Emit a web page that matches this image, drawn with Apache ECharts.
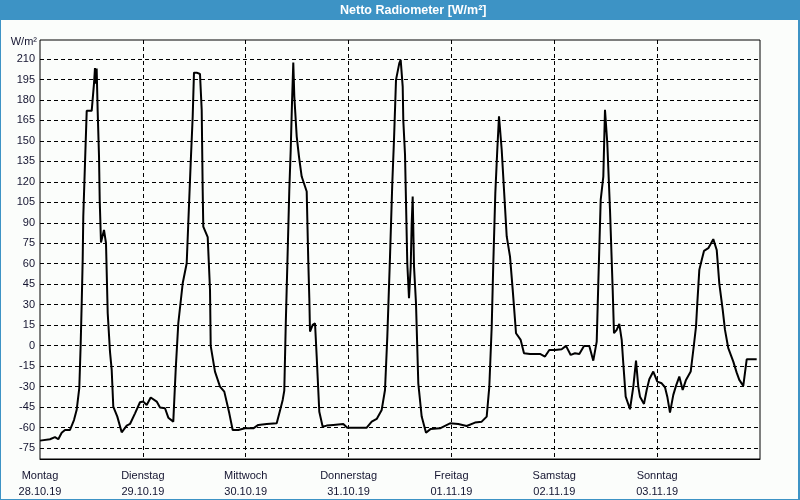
<!DOCTYPE html>
<html>
<head>
<meta charset="utf-8">
<script src="https://cdn.jsdelivr.net/npm/echarts@6/dist/echarts.min.js"></script>
<style>
html,body{margin:0;padding:0;background:#fbfdfb;}
#c{width:800px;height:500px;}
</style>
</head>
<body>
<div id="c"></div>
<script>
const dayNames = ['Montag','Dienstag','Mittwoch','Donnerstag','Freitag','Samstag','Sonntag'];
const dayDates = ['28.10.19','29.10.19','30.10.19','31.10.19','01.11.19','02.11.19','03.11.19'];
const yTicks = [-75,-60,-45,-30,-15,0,15,30,45,60,75,90,105,120,135,150,165,180,195,210];

// hours since Mon 28.10.19 00:00
const hours = [
0,2.33,3.5,4.27,5.06,5.83,7.0,7.93,8.56,9.17,9.5,9.73,9.96,10.1,10.5,10.9,12.06,12.6,12.83,13.0,13.22,13.46,13.77,13.93,14.23,14.93,15.4,15.8,16.33,16.73,17.1,18.04,19.06,20.23,21.0,22.17,23.33,
24.1,24.9,25.83,27.23,28.0,29.17,29.94,31.1,31.66,32.27,33.3,34.23,34.6,35.16,35.63,35.93,36.56,37.33,37.73,37.96,38.1,39.13,39.67,39.83,40.83,42.0,43.0,44.17,44.96,46.27,47.83,
49.0,49.77,50.94,52.9,55.23,55.84,56.63,57.0,57.33,57.7,58.17,58.5,58.8,59.1,59.34,59.9,60.43,61.06,62.23,62.6,62.84,63.0,63.63,64.17,64.56,65.17,65.96,66.9,68.44,70.77,71.7,
73.9,76.23,77.4,78.56,79.73,80.5,81.04,81.67,82.2,82.6,83.07,83.84,84.16,84.63,84.77,85.17,85.7,86.1,86.5,86.73,86.96,87.27,87.73,88.27,89.06,90.07,91.16,93.33,95.67,
97.6,99.56,101.5,103.06,104.23,104.84,105.4,105.77,106.24,106.7,107.1,107.33,107.73,108.27,108.9,109.67,110.3,111.07,112.16,112.93,114.33,116.67,117.83,118.84,
120.17,121.73,122.73,123.83,124.83,125.84,126.93,128.17,129.1,129.9,130.27,130.83,131.44,131.83,132.06,132.37,133.0,133.63,133.93,134.56,135.17,135.73,136.1,136.66,137.67,138.44,139.07,139.6,140.0,140.93,141.56,142.17,143.1,
144.04,145.06,145.83,146.37,147.0,147.77,148.4,149.17,149.96,150.73,151.83,152.44,153.07,153.37,153.84,154.4,154.93,155.94,157.1,157.9,158.5,159.3,159.83,160.6,161.77,162.56,163.17,164.1,164.9,167.23
];
const watts = [
-69.6,-68.6,-67,-68.6,-63.8,-61.8,-61.8,-54.5,-47,-31,1.8,31,62.8,94.6,133.7,172,172,192,203.3,192,203,171.5,138.5,106.8,75.5,84.8,75,23.7,-4.4,-17.8,-44.7,-52,-63.5,-58.6,-57.4,-49.6,-41.5,
-41,-43.5,-38,-41,-45.4,-45.9,-52.8,-55.7,-17.8,16.4,45.7,60.4,89.7,133.7,167.9,200,200,199,172.8,114,87.2,79.5,40.8,-0.2,-19,-30,-33.7,-49.6,-61.8,-61.8,-60.6,
-60.6,-60.6,-58.1,-57.4,-56.9,-49.6,-39.8,-33,14,58,114,143.5,177.7,207.4,182.5,153.2,138.5,123.9,112.9,61.6,34.7,10.3,15.2,16.4,-8,-48.4,-59.4,-58.6,-58.1,-57.4,-60.1,
-60.1,-60.1,-55.7,-53.7,-47.1,-32.5,6.6,65.2,119,150.8,194.7,207,209.4,189.8,165,140,60.4,34.7,58,89.7,109.2,58,31,-27.6,-52,-63.8,-61,-60.6,-56.9,
-57.4,-58.9,-56.4,-55.7,-52,-30,14,60.4,111.7,143.5,168,166.7,143.5,114,80,65.2,40.8,9.1,4.2,-5.6,-6.1,-6.1,-8,-3.2,
-3.2,-2.6,-0.2,-6.8,-5.6,-6.1,-0.2,-0.2,-11,2.9,45.7,106.8,123.9,172.8,172.8,148.3,99.5,40.8,9.1,11.5,15.9,4.2,-12.9,-37.4,-46.6,-30,-11,-30,-37.4,-42.7,-32.5,-24.6,-19,
-26.4,-27.6,-30.5,-37.4,-49.1,-36.1,-29.5,-22.7,-32.5,-25.1,-19,-3.2,14,31,55.5,62.8,69.4,71.4,78,70.1,45.7,26.2,11.5,-1.9,-11.7,-19.8,-25.1,-29.5,-10,-10
];

const seriesData = hours.map((h, i) => [h, watts[i]]);
const FONT = 'Liberation Sans, Arial, sans-serif';
const chart = echarts.init(document.getElementById('c'), null, {renderer: 'canvas'});
chart.setOption({
  animation: false,
  backgroundColor: '#fbfdfb',
  title: {
    text: 'Netto Radiometer [W/m²]',
    left: 340, top: 4, padding: 0,
    textStyle: {color: '#ffffff', fontSize: 12.5, fontWeight: 'bold', fontFamily: FONT}
  },
  graphic: [
    {type: 'rect', z: -10, shape: {x: 0, y: 0, width: 800, height: 20}, style: {fill: '#3d93c5'}, silent: true},
    {type: 'rect', z: -10, shape: {x: 0, y: 0, width: 1, height: 500}, style: {fill: '#3d93c5'}, silent: true},
    {type: 'rect', z: -10, shape: {x: 798, y: 0, width: 2, height: 500}, style: {fill: '#3d93c5'}, silent: true},
    {type: 'rect', z: -10, shape: {x: 0, y: 499, width: 800, height: 1}, style: {fill: '#3d93c5'}, silent: true}
  ],
  grid: [
    {left: 40, right: 40, top: 40, bottom: 40, show: true, borderColor: '#000', borderWidth: 1, backgroundColor: 'transparent'},
    {left: 40, right: 40, top: 59, bottom: 52}
  ],
  xAxis: [
    {
      type: 'value', gridIndex: 0, min: 0, max: 168, interval: 24,
      axisLine: {show: true, lineStyle: {color: '#000', width: 1}},
      axisTick: {show: false},
      splitLine: {show: true, showMinLine: false, showMaxLine: false, lineStyle: {color: '#000', type: [4, 3], width: 1}},
      axisLabel: {
        margin: 9, color: '#141430', fontSize: 11, fontFamily: FONT, lineHeight: 16,
        formatter: v => { const i = Math.round(v / 24); return i < dayNames.length ? dayNames[i] + '\n' + dayDates[i] : ''; }
      }
    },
    {
      type: 'value', gridIndex: 1, min: 0, max: 168, interval: 24, show: false,
      splitLine: {show: false}
    }
  ],
  yAxis: [
    {type: 'value', gridIndex: 0, min: 0, max: 1, show: false, splitLine: {show: false}},
    {
      type: 'value', gridIndex: 1, min: yTicks[0], max: yTicks[yTicks.length - 1], interval: 15,
      name: 'W/m²', nameLocation: 'end', nameGap: 12,
      nameTextStyle: {align: 'right', color: '#141430', fontSize: 11, fontFamily: FONT, padding: [0, 3, 0, 0]},
      axisLine: {show: false}, axisTick: {show: false},
      axisLabel: {margin: 5, color: '#141430', fontSize: 11, fontFamily: FONT},
      splitLine: {show: true, lineStyle: {color: '#000', type: [4, 3], width: 1}}
    }
  ],
  series: [{
    type: 'line', xAxisIndex: 1, yAxisIndex: 1, data: seriesData,
    showSymbol: false, symbol: 'none',
    lineStyle: {color: '#000', width: 2}, clip: false
  }]
});
</script>
</body>
</html>
